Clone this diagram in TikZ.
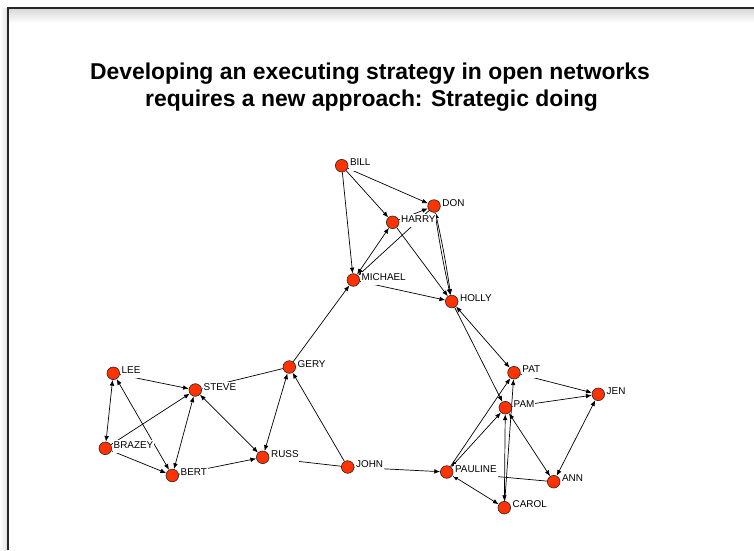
\documentclass[tikz,border=0pt]{standalone}
\usepackage{fontspec}
\setmainfont{Liberation Sans}
\usetikzlibrary{arrows.meta,calc}
\pgfdeclarelayer{edges}
\pgfsetlayers{edges,main}
\definecolor{nodered}{HTML}{FF3300}
\tikzset{
  dot/.style={circle, draw=black!85, line width=0.6pt, fill=nodered, minimum size=12.6pt, inner sep=0pt},
  lab/.style={anchor=west, fill=white, inner sep=0.8pt, text height=7.2pt, text depth=4pt,
              font=\fontsize{9.9}{10}\selectfont},
  titlefont/.style={anchor=base, font=\bfseries\fontsize{22.9}{27}\selectfont},
  arr/.style={-{Latex[length=5.8pt,width=4.6pt]}, line width=0.7pt, black},
  biarr/.style={{Latex[length=5.8pt,width=4.6pt]}-{Latex[length=5.8pt,width=4.6pt]}, line width=0.7pt, black},
}
\begin{document}
\begin{tikzpicture}[x=1pt,y=-1pt]
\useasboundingbox (0,0) rectangle (754,550);
% frame with shadow
\shade[top color=black!15, bottom color=white] (8.6,8.6) rectangle (754,23);
\shade[left color=white, right color=black!12] (0,8) rectangle (7.4,550);
\draw[line width=1.3pt, black!85] (8,550) -- (8,8) -- (754,8);

% title
\node[titlefont] (title1) at (370,79) {Developing an executing strategy in open networks};
\node[titlefont] (title2) at (371.5,106) {requires a new approach: Strategic doing};

% nodes
\node[dot] (BILL) at (341.7,165.7) {};
\node[dot] (DON) at (434,206) {};
\node[dot] (HARRY) at (392.7,222.3) {};
\node[dot] (MICHAEL) at (353.3,280) {};
\node[dot] (HOLLY) at (451.7,301.5) {};
\node[dot] (GERY) at (289.3,367) {};
\node[dot] (LEE) at (113.3,373.3) {};
\node[dot] (STEVE) at (195.3,390) {};
\node[dot] (BRAZEY) at (105.3,448.3) {};
\node[dot] (BERT) at (172.3,475.5) {};
\node[dot] (RUSS) at (262.7,457.3) {};
\node[dot] (JOHN) at (347.7,467) {};
\node[dot] (PAT) at (514,372.7) {};
\node[dot] (JEN) at (598.3,394.3) {};
\node[dot] (PAM) at (505.3,407.7) {};
\node[dot] (PAULINE) at (446.7,472) {};
\node[dot] (ANN) at (553.7,481.7) {};
\node[dot] (CAROL) at (504.3,507.7) {};

% labels
\foreach \n in {BILL,DON,HARRY,MICHAEL,HOLLY,GERY,LEE,STEVE,BRAZEY,BERT,RUSS,JOHN,PAT,JEN,PAM,PAULINE,ANN,CAROL}
  \node[lab] (\n-l) at ($(\n)+(7.4,-1.6)$) {\n};

% edges
\begin{pgfonlayer}{edges}
\draw[arr] (BILL) -- (DON);
\draw[arr] (BILL) -- (HARRY);
\draw[arr] (BILL) -- (MICHAEL);
\draw[biarr] (HARRY) -- (MICHAEL);
\draw[arr] (DON) -- (MICHAEL);
\draw[arr] (HARRY) -- (DON);
\draw[biarr] (DON) to[bend left=2] (HOLLY);
\draw[arr] (DON) to[bend right=2] (HOLLY);
\draw[arr] (HARRY) -- (HOLLY);
\draw[arr] (MICHAEL) -- (HOLLY);
\draw[arr] (GERY) -- (MICHAEL);
\draw[biarr] (HOLLY) -- (PAT);
\draw[arr] (HOLLY) -- (PAM);
\draw[arr] (PAT) -- (JEN);
\draw[arr] (PAM) -- (JEN);
\draw[biarr] (JEN) -- (ANN);
\draw[biarr] (PAM) -- (ANN);
\draw[biarr] (PAM) -- (CAROL);
\draw[arr] (CAROL) -- (PAT);
\draw[biarr] (PAULINE) -- (PAM);
\draw[arr] (PAULINE) -- (PAT);
\draw[biarr] (PAULINE) -- (CAROL);
\draw[arr] (ANN) -- (PAULINE);
\draw[arr] (JOHN) -- (PAULINE);
\draw[arr] (JOHN) -- (GERY);
\draw[arr] (JOHN) -- (RUSS);
\draw[biarr] (GERY) -- (RUSS);
\draw[arr] (GERY) -- (STEVE);
\draw[biarr] (STEVE) -- (RUSS);
\draw[arr] (BERT) -- (RUSS);
\draw[biarr] (STEVE) -- (BERT);
\draw[arr] (LEE) -- (STEVE);
\draw[biarr] (LEE) -- (BERT);
\draw[biarr] (LEE) -- (BRAZEY);
\draw[arr] (BRAZEY) -- (STEVE);
\draw[arr] (BRAZEY) -- (BERT);
\end{pgfonlayer}
\end{tikzpicture}
\end{document}
